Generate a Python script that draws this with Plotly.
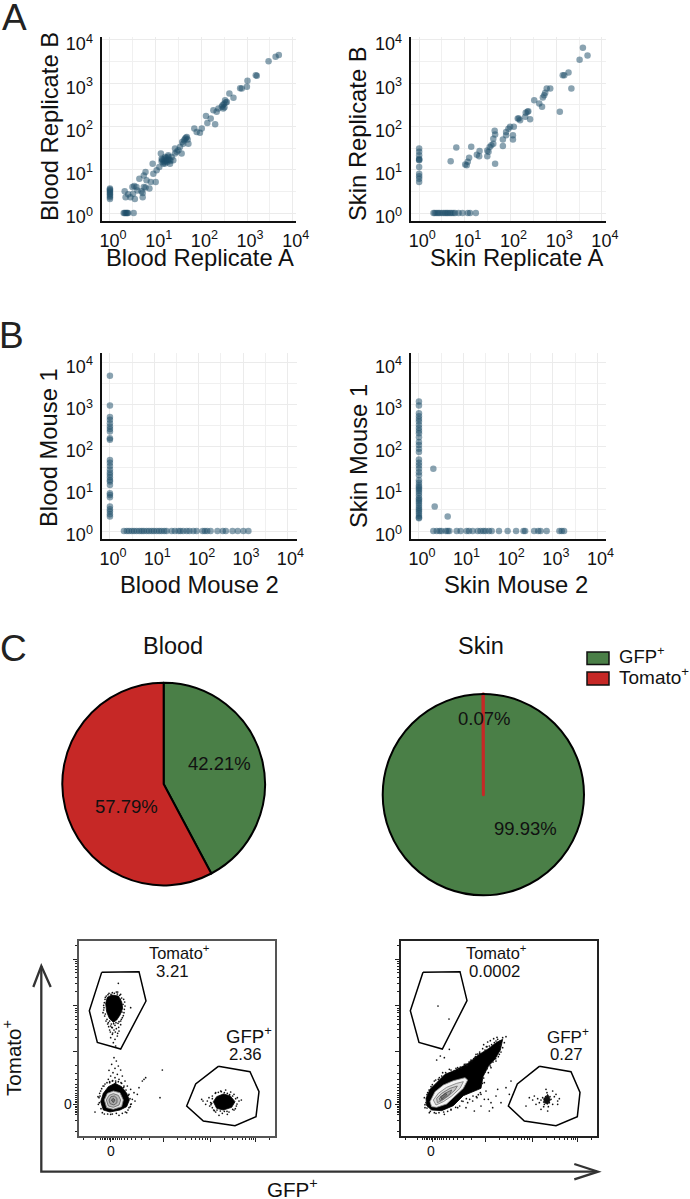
import plotly.graph_objects as go

W, H = 690, 1199

# ---------- Panel A values ----------
blood_rep_a = [1,1,1,1,1,1,1,1,1,
    2.0,2.1,2.2,2.3,2.4,2.5,3.3,
    2.1,2.2,2.5,2.8,3.1,3.4,3.8,3.2,3.5,4.0,4.4,5.2,5.2,4.9,5.5,6.0,6.0,5.5,6.3,7.3,7.8,10,8.6,8.9,10.5,12,13,13.5,14.7,16,
    17.4,18.9,20.6,22.4,24.3,26.5,26.5,28.9,31.4,34,37,40,44,48,52,70,79,93,102,126,135,160,183,200,216,236,280,302,330,360,
    410,503,705,765,990,1020,1550,1630,2950,4200,4950,
    13.5,14,15,15.5,16,16.5,17,18,18.5,19,20,21,290,310,320,340,42,46,50,38]
blood_rep_b = [2.1,2.3,2.5,2.7,2.9,3.1,3.3,3.5,3.7,
    1,1,1,1,1,1,1,
    3.2,2.3,2.7,2.3,4.0,4.2,4.0,2.8,2.1,3.3,6.2,2.3,2.9,3.2,4.0,3.9,8.9,7.4,5.7,3.7,5.2,5.2,13.8,8.1,9.7,11.6,23.6,18,13.8,19.8,
    16.5,21.7,13.8,19.8,16.5,30.8,23.6,25.9,28.2,33.7,23.6,40,52,57,40,90,75,72,90,175,120,152,238,113,218,260,285,260,405,370,
    580,460,770,760,825,1140,1520,1480,3200,4100,4500,
    15.5,17,15,18,14,16,19,15,17,20,17,16,310,330,280,360,48,55,50,44]
skin_rep_a = [1,1,1,1,1,1,1,1,1,1,1,
    2.06,2.2,2.4,2.6,2.8,3.1,3.4,3.7,4,4.3,4.7,5.1,5.6,6.1,7.3,8.9,11.6,13,17.4,
    4.9,6.5,10.2,11,11.6,12.4,13.8,18.3,20.6,21,31,33,31,35,38,42,42,46,45,46,68,68,80,80,90,98,118,113,113,144,152,162,
    210,215,235,245,268,330,425,490,510,545,575,620,740,1200,1390,1500,1860,2150,3250,3840,4850]
skin_rep_b = [30.8,25.9,21.7,18,17,16.5,11.6,8.1,7.1,6.2,5.2,
    1,1,1,1,1,1,1,1,1,1,1,1,1,1,1,1,1,1,1,
    15.7,32.5,13.2,12.7,15.2,19,34,22.3,20.5,27,20.5,25.9,28,33.7,37,40,52,65,80,13.8,50,35.6,63,75,89,98,98,63,50,152,152,140,
    167,207,218,225,147,405,340,285,465,530,600,760,760,218,1520,1530,1780,760,3500,6600,4400]

# ---------- Panel B values ----------
blood_m1_col = [4900,960,510,440,365,305,265,232,161,147,49,42,35,29,24.5,21.6,19,16.4,15,12.4,7.9,7.2,6.3,3.8,3.3,2.9,2.5,2.2]
blood_m2_row = [2.07,2.4,2.7,3.1,3.5,4,4.6,5.2,5.8,6.7,7.6,8.7,9.8,11.3,12.9,14.6,16.8,18.9,24.6,29,35,39,45,54,62,76,90,123,138,156,186,265,350,410,580,760,1020,1320]
blood_m2 = [1]*len(blood_m1_col) + blood_m2_row
blood_m1 = blood_m1_col + [1]*len(blood_m2_row)

skin_m1_col = [1200,960,630,530,460,400,330,280,240,210,170,130,110,90,75,50,42,36,30,25,21,16,14,12,11,10,9,8,7,6,5.5,5,4.5,4,3.5,3.2,2.9,2.6,2.3,2.1,2]
skin_extra_m2 = [2.1,2.25,4.4]
skin_extra_m1 = [30,3.8,2.2]
skin_m2_row = [2.1,2.5,2.9,3.2,4.0,4.4,4.8,7,8.6,11.7,13.2,16,20.7,24,27.7,31,37,42.6,62,97,150,220,239,380,470,530,725,1400,1580,1780]
skin_m2 = [1]*len(skin_m1_col) + skin_extra_m2 + skin_m2_row
skin_m1 = skin_m1_col + skin_extra_m1 + [1]*len(skin_m2_row)

log_ticks = [1, 10, 100, 1000, 10000]
log_minor = [3.162, 31.62, 316.2, 3162]
log_text = ["10<sup>0</sup>", "10<sup>1</sup>", "10<sup>2</sup>", "10<sup>3</sup>", "10<sup>4</sup>"]

# ---------- Panel C values ----------
pie_labels = ["GFP<sup>+</sup>", "Tomato<sup>+</sup>"]
blood_pie = [42.21, 57.79]
skin_pie = [99.93, 0.07]

# ---------- Flow plots: channel units ----------
left_tom_gate_x = [68,180,201,125,55,31,68]
left_tom_gate_y = [491,493,405,261,281,376,491]
left_gfp_gate_x = [418,513,540,531,468,373,323,350,418]
left_gfp_gate_y = [209,193,133,58,31,45,90,156,209]
right_tom_gate_x = [66,177,198,124,54,28,66]
right_tom_gate_y = [491,493,406,261,281,376,491]
right_gfp_gate_x = [415,510,537,529,465,370,322,349,415]
right_gfp_gate_y = [209,193,131,58,31,45,90,156,209]

left_tom_blob_x = [98,118,128,131,123,113,103,91,83,80,85,98]
left_tom_blob_y = [423,420,403,383,363,348,341,353,373,398,416,423]
left_gfp_blob_x = [403,413,433,453,468,458,433,413,403]
left_gfp_blob_y = [103,118,126,121,103,86,78,83,103]
left_neg_blob_x = [73,88,108,128,143,151,143,123,93,73,65,73]
left_neg_blob_y = [128,148,158,148,128,108,88,78,72,78,103,128]
left_neg_white_x = [76,85,103,123,133,128,103,83,76]
left_neg_white_y = [108,128,135,130,108,88,80,85,108]
left_neg_ring1_x = [82,90,103,118,125,120,103,88,82]
left_neg_ring1_y = [108,122,127,122,108,93,86,90,108]
left_neg_ring2_x = [90,96,106,114,114,105,93,90]
left_neg_ring2_y = [108,118,120,113,100,93,97,108]
left_neg_ring3_x = [97,103,108,103,97]
left_neg_ring3_y = [108,113,108,100,108]

left_dots_x = [78,75,72,77,84,88,95,100,108,117,125,130,135,138,134,125,112,100,90,82,118,155,92,100,108,115,120,95,110,103,
    105,112,98,118,108,90,125,102,115,95,130,108,120,88,100,138,128,110,92,
    155,150,160,155,150,143,120,95,70,58,60,65,75,135,145,165,168,175,190,195,200,180,250,243,48,
    395,390,385,372,400,410,425,440,455,465,475,480,472,465,450,430,410,400,392,380,420,445,487,368,
    76,74,79,81,86,92,97,104,111,120,127,133,136,132,128,122,115,106,96,87,79,74,129,137,124,116,
    98,105,112,119,125,89,94,101,109,116,
    62,68,72,78,84,92,101,110,118,126,134,141,148,153,157,154,147,139,130,112,100,86,76,66,61,57,63,
    400,396,404,409,418,427,436,445,452,461,470,474,469,461,444,436,424,414,406,398]
left_dots_y = [410,385,370,360,350,340,330,325,332,338,345,355,370,390,410,425,432,430,428,420,458,385,318,305,290,300,315,295,270,280,
    235,225,215,210,203,197,198,190,185,180,180,175,170,170,165,165,158,160,160,
    140,125,110,95,85,70,62,65,70,95,115,135,150,150,150,130,105,125,165,170,175,145,198,115,72,
    100,115,105,105,120,130,135,138,132,125,115,105,90,78,72,68,72,85,90,95,62,65,108,110,
    400,378,366,345,336,345,336,337,340,343,350,361,380,395,414,422,426,428,425,424,416,392,372,402,410,432,
    326,318,322,326,334,328,312,309,312,308,
    128,142,150,156,160,163,166,165,163,160,146,138,122,112,96,88,78,72,68,68,66,66,66,82,100,118,120,
    112,94,78,128,131,133,130,128,124,120,112,96,82,80,74,74,75,78,76,98]

right_comet_x = [75,87,107,132,162,202,232,262,287,305,298,282,262,246,240,212,187,157,122,92,77,75]
right_comet_y = [113,140,160,185,197,218,243,262,281,290,258,231,209,178,143,131,121,91,76,78,91,113]
right_white_x = [87,102,127,157,192,200,187,162,137,107,92,87]
right_white_y = [103,133,153,166,175,168,143,118,96,86,88,103]
right_ring1_x = [97,112,137,167,187,177,152,127,105,97]
right_ring1_y = [108,128,146,158,163,143,120,103,93,108]
right_ring2_x = [107,122,147,169,162,142,122,109,107]
right_ring2_y = [113,128,143,150,138,120,106,100,113]
right_ring3_x = [115,132,152,147,127,117,115]
right_ring3_y = [113,128,138,126,111,106,113]
right_ring4_x = [119,135,137,122,119]
right_ring4_y = [118,128,123,110,118]
right_gfp_core_x = [430,440,448,440,435,428,430]
right_gfp_core_y = [100,95,108,125,118,112,100]

right_dots_x = [75,70,80,90,100,115,125,145,170,190,210,225,245,265,285,305,315,310,305,295,285,270,262,250,255,240,228,215,200,182,170,150,130,105,85,72,215,240,250,262,270,285,290,300,315,330,325,265,275,220,195,145,118,130,107,
    111,144,
    415,420,425,430,435,440,445,450,428,438,442,455,410,405,460,465,470,400,395,385,375,470,435,455,440,420,475,432,437,436,439,434,440,443,428,447,
    72,78,84,94,104,112,122,134,150,165,178,195,208,222,236,252,258,272,280,290,298,300,292,284,276,268,258,252,248,244,238,232,226,216,206,196,186,176,164,150,140,128,114,100,88,78,
    260,268,278,288,296,248,256,236,230,224,218,212,204,198,180,172,160]
right_dots_y = [100,115,130,148,165,175,190,200,205,215,228,245,262,270,285,295,298,280,265,245,225,205,190,160,135,125,115,105,100,105,85,78,65,68,70,85,135,90,110,110,100,120,140,100,145,165,125,75,85,75,85,260,240,235,228,
    390,351,
    100,108,115,95,105,120,100,110,88,130,88,95,112,95,118,125,105,120,108,115,90,95,140,135,75,80,112,112,112,105,100,118,108,115,102,118,
    94,124,138,154,168,170,180,190,198,203,207,216,224,236,248,258,268,274,280,290,272,252,238,232,222,210,202,192,174,158,130,124,118,120,110,112,104,90,86,80,74,72,70,70,74,84,
    282,286,292,296,284,274,268,252,246,238,232,226,222,212,204,200,196]

flow_major = [95, 253, 393, 530]
flow_minor = [14,48,65,70,75,80,86,90,100,104,110,116,122,128,136,146,156,170,187,211,
              295,319,336,350,360,370,378,384,435,459,476,490,500,510,518,524,572]

# ---------- Styles ----------
DOT = "rgba(31,78,105,0.52)"
GREEN, RED = "#4a7f47", "#c62826"
FONT = "Liberation Sans, Arial, sans-serif"


def dom_x(a, b):
    return [a / W, b / W]


def dom_y(top, bottom):
    return [1 - bottom / H, 1 - top / H]


fig = go.Figure()

scatter_panels = [
    (blood_rep_a, blood_rep_b, (101.5, 296), (36.5, 221), (-0.185, 4.07), (-0.185, 4.08)),
    (skin_rep_a, skin_rep_b, (410.7, 606), (36.5, 221), (-0.185, 4.09), (-0.185, 4.08)),
    (blood_m2, blood_m1, (101.5, 296.7), (353, 539.3), (-0.19, 4.21), (-0.197, 4.23)),
    (skin_m2, skin_m1, (410.7, 606), (353, 539.3), (-0.185, 4.19), (-0.197, 4.23)),
]

layout = dict(
    width=W, height=H, margin=dict(l=0, r=0, t=0, b=0, pad=0),
    paper_bgcolor="white", plot_bgcolor="white", showlegend=False,
    font=dict(family=FONT, color="#111"),
)

for i, (xs, ys, xd, yd, xr, yr) in enumerate(scatter_panels, start=1):
    fig.add_trace(go.Scatter(x=xs, y=ys, mode="markers", xaxis=f"x{i}", yaxis=f"y{i}", cliponaxis=False,
                             marker=dict(size=6.5, color=DOT, line=dict(width=0))))
    ax = dict(type="log", tickmode="array", tickvals=log_ticks, ticktext=log_text, ticks="", automargin=False,
              tickfont=dict(size=18, family=FONT, color="#111"), showgrid=True, gridcolor="#ebebeb", gridwidth=1,
              minor=dict(tickmode="array", tickvals=log_minor, showgrid=True, gridcolor="#f0f0f0", gridwidth=1, ticks=""),
              showline=True, linecolor="#111", linewidth=2, zeroline=False)
    layout[f"xaxis{i}"] = dict(ax, domain=dom_x(*xd), range=list(xr), anchor=f"y{i}", ticklabelstandoff=2, ticklabelshift=3)
    layout[f"yaxis{i}"] = dict(ax, domain=dom_y(*yd), range=list(yr), anchor=f"x{i}", ticklabelstandoff=3, ticklabelshift=4)

# Pies
fig.add_trace(go.Pie(values=blood_pie, labels=pie_labels, sort=False, direction="clockwise", rotation=0, textinfo="none",
                     domain=dict(x=dom_x(62.3, 265), y=dom_y(682.7, 885.4)),
                     marker=dict(colors=[GREEN, RED], line=dict(color="#000", width=2)), hoverinfo="label+percent"))
fig.add_trace(go.Pie(values=skin_pie, labels=pie_labels, sort=False, direction="clockwise", rotation=0, textinfo="none",
                     domain=dict(x=dom_x(382.7, 584), y=dom_y(694, 895.3)),
                     marker=dict(colors=[GREEN, RED], line=dict(color=[GREEN, RED], width=[0, 3]))))
fig.add_trace(go.Pie(values=[100], labels=["outline"], textinfo="none", sort=False,
                     domain=dict(x=dom_x(382.7, 584), y=dom_y(694, 895.3)),
                     marker=dict(colors=["rgba(0,0,0,0)"], line=dict(color="#000", width=2))))


# Flow plots
def flow_fill(xs, ys, color, n, line=None):
    fig.add_trace(go.Scatter(x=xs, y=ys, mode="lines", fill="toself", fillcolor=color, xaxis=f"x{n}", yaxis=f"y{n}",
                             line=dict(color=line or color, width=0.8), hoverinfo="skip"))


def flow_line(xs, ys, n, color="#000", width=1.5):
    fig.add_trace(go.Scatter(x=xs, y=ys, mode="lines", xaxis=f"x{n}", yaxis=f"y{n}",
                             line=dict(color=color, width=width), hoverinfo="skip"))


def flow_dots(xs, ys, n):
    fig.add_trace(go.Scatter(x=xs, y=ys, mode="markers", xaxis=f"x{n}", yaxis=f"y{n}",
                             marker=dict(size=1.7, color="#111", line=dict(width=0)), hoverinfo="skip"))


flow_fill(left_tom_blob_x, left_tom_blob_y, "#000", 5)
flow_fill(left_gfp_blob_x, left_gfp_blob_y, "#000", 5)
flow_fill(left_neg_blob_x, left_neg_blob_y, "#000", 5)
flow_fill(left_neg_white_x, left_neg_white_y, "#e4e4e4", 5, "#777")
flow_fill(left_neg_ring1_x, left_neg_ring1_y, "#bdbdbd", 5, "#666")
flow_fill(left_neg_ring2_x, left_neg_ring2_y, "#a8a8a8", 5, "#555")
flow_fill(left_neg_ring3_x, left_neg_ring3_y, "#777", 5, "#444")
flow_dots(left_dots_x, left_dots_y, 5)
flow_line(left_tom_gate_x, left_tom_gate_y, 5)
flow_line(left_gfp_gate_x, left_gfp_gate_y, 5)

flow_fill(right_comet_x, right_comet_y, "#000", 6)
flow_fill(right_white_x, right_white_y, "#f4f4f4", 6, "#888")
flow_fill(right_ring1_x, right_ring1_y, "#dcdcdc", 6, "#777")
flow_fill(right_ring2_x, right_ring2_y, "#c4c4c4", 6, "#666")
flow_fill(right_ring3_x, right_ring3_y, "#a0a0a0", 6, "#555")
flow_fill(right_ring4_x, right_ring4_y, "#777", 6, "#444")
flow_fill(right_gfp_core_x, right_gfp_core_y, "#111", 6)
flow_dots(right_dots_x, right_dots_y, 6)
flow_line(right_tom_gate_x, right_tom_gate_y, 6)
flow_line(right_gfp_gate_x, right_gfp_gate_y, 6)

for n, xd, col in [(5, (79, 275), "#555"), (6, (401, 597), "#222")]:
    fa = dict(showgrid=False, zeroline=False, tickmode="array", tickvals=flow_major, automargin=False,
              showticklabels=False, ticks="outside", ticklen=4, tickwidth=1, tickcolor="#222",
              minor=dict(tickmode="array", tickvals=flow_minor, ticks="outside", ticklen=2, tickwidth=1, tickcolor="#222", showgrid=False),
              showline=True, mirror=True, linecolor=col, linewidth=1.5)
    layout[f"xaxis{n}"] = dict(fa, domain=dom_x(*xd), range=[0, 588], anchor=f"y{n}")
    layout[f"yaxis{n}"] = dict(fa, domain=dom_y(940.7, 1136), range=[0, 586], anchor=f"x{n}")


# Text
def T(px, py, text, size, rot=0, color="#111"):
    return dict(x=px / W, y=1 - py / H, xref="paper", yref="paper", text=text, showarrow=False, textangle=rot,
                xanchor="center", yanchor="middle", font=dict(size=size, family=FONT, color=color))


sp = "<sup>+</sup>"
annotations = [
    T(14.5, 17, "A", 37, color="#222"), T(11.5, 336, "B", 37, color="#222"), T(13, 648, "C", 37, color="#222"),
    T(200, 258, "Blood Replicate A", 23.8), T(49, 127, "Blood Replicate B", 23.8, -90),
    T(516.5, 258, "Skin Replicate A", 23.8), T(358, 134, "Skin Replicate B", 23.8, -90),
    T(199, 585, "Blood Mouse 2", 23.8), T(48, 448, "Blood Mouse 1", 23.8, -90),
    T(516, 585, "Skin Mouse 2", 23.8), T(358, 456, "Skin Mouse 1", 23.8, -90),
    T(173, 646, "Blood", 23.5), T(481, 646, "Skin", 23.5),
    T(219, 763, "42.21%", 18.5), T(126, 806, "57.79%", 18.5),
    T(484, 718, "0.07%", 18.5), T(525, 828, "99.93%", 18.5),
    T(642, 655, "GFP" + sp, 18.5), T(653.5, 676, "Tomato" + sp, 19),
    T(179, 952, "Tomato" + sp, 16.4), T(172, 971, "3.21", 16.8), T(249, 1035, "GFP" + sp, 18.6), T(245, 1054, "2.36", 16.8),
    T(496, 952, "Tomato" + sp, 16.4), T(494, 971, "0.0002", 16.8), T(568, 1036, "GFP" + sp, 17), T(566, 1054, "0.27", 16.8),
    T(12, 1058, "Tomato" + sp, 20.6, -90), T(292, 1187.5, "GFP" + sp, 20.6),
    T(67.7, 1104, "0", 14), T(110.7, 1151, "0", 14), T(388.3, 1104, "0", 14), T(431.3, 1151, "0", 14),
]
layout["annotations"] = annotations


def path(points):
    return "M " + " L ".join(f"{x / W:.5f},{1 - y / H:.5f}" for x, y in points)


shapes = []
for top, bottom, c in [(652, 664.5, GREEN), (672, 685, RED)]:
    shapes.append(dict(type="rect", xref="paper", yref="paper", x0=587 / W, x1=609 / W, y0=1 - bottom / H, y1=1 - top / H,
                       fillcolor=c, line=dict(color="#111", width=1.5)))
arrow = dict(type="path", xref="paper", yref="paper", line=dict(color="#333", width=2.3))
shapes.append(dict(arrow, path=path([(41.3, 966), (41.3, 1171.7), (597, 1171.7)])))
shapes.append(dict(arrow, path=path([(33.3, 987), (41.3, 966), (50.7, 987)])))
shapes.append(dict(arrow, path=path([(574.3, 1164), (598, 1171.7), (574.3, 1179.3)])))
layout["shapes"] = shapes

fig.update_layout(**layout)
fig.write_html("out.html", post_script="document.body.style.margin='0';", config=dict(displayModeBar=False))
